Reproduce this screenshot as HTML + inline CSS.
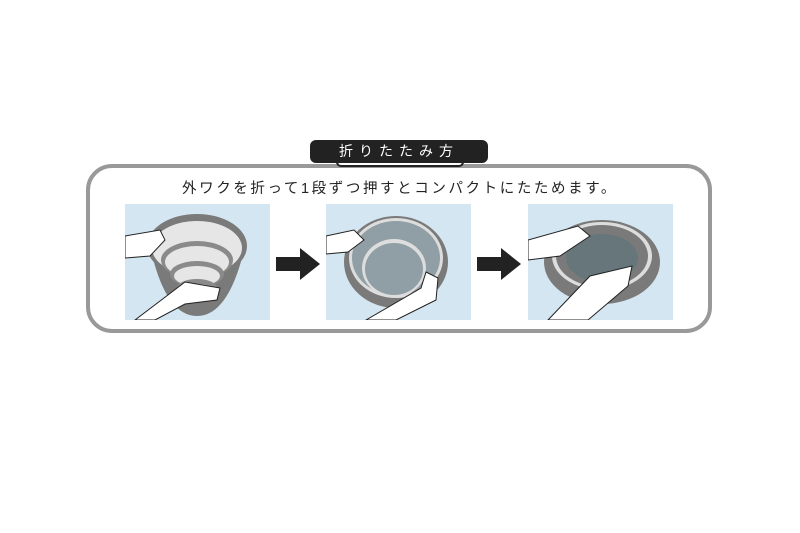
<!DOCTYPE html>
<html><head><meta charset="utf-8"><style>
body{margin:0;width:800px;height:533px;background:#fff;position:relative;overflow:hidden;font-family:"Liberation Sans","Noto Sans CJK JP",sans-serif}
.box{position:absolute;left:86px;top:164px;width:618px;height:161px;border:4px solid #999;border-radius:26px}
.tab{position:absolute;left:310px;top:140px;width:178px;height:23px;background:#222;border-radius:6px;color:#fff;font-size:14px;line-height:22px;text-align:center;letter-spacing:6px}
.bump{position:absolute;left:336px;top:156px;width:124px;height:9px;background:#fff;border:2px solid #222;border-top:none;border-radius:0 0 5px 5px}
.txt{position:absolute;left:160px;top:177px;width:480px;text-align:center;font-size:14.5px;letter-spacing:2.6px;color:#222}
.p{position:absolute;top:204px;width:145px;height:116px;background:#d4e6f1;overflow:hidden}
</style></head><body>
<div class="box"></div>
<div class="bump"></div>
<div class="tab">折りたたみ方</div>
<div class="txt">外ワクを折って1段ずつ押すとコンパクトにたためます。</div>
<div class="p" style="left:125px"><svg width="145" height="116">
<path d="M25 42 Q40 112 72 112 Q104 112 120 42 Z" fill="#7a7a7a"/>
<ellipse cx="72" cy="42" rx="50" ry="32" fill="#7a7a7a"/>
<ellipse cx="72" cy="44" rx="45" ry="27" fill="#e6e6e6"/>
<ellipse cx="72" cy="56" rx="36" ry="19" fill="#8a8a8a"/><ellipse cx="72" cy="58" rx="32" ry="16" fill="#e6e6e6"/>
<ellipse cx="72" cy="70" rx="27" ry="13" fill="#8a8a8a"/><ellipse cx="72" cy="72" rx="23" ry="10" fill="#e6e6e6"/>
<ellipse cx="72" cy="84" rx="20" ry="9" fill="#8a8a8a"/><ellipse cx="72" cy="86" rx="16" ry="6" fill="#e6e6e6"/>
<path d="M0 32 L35 26 L40 36 L25 52 L0 54Z" fill="#fff" stroke="#222" stroke-width="1"/>
<path d="M10 116 L60 78 L95 84 L92 96 L60 100 L30 116Z" fill="#fff" stroke="#222" stroke-width="1"/>
</svg></div>
<div class="p" style="left:326px"><svg width="145" height="116">
<ellipse cx="70" cy="58" rx="52" ry="46" fill="#7a7a7a"/>
<ellipse cx="70" cy="54" rx="47" ry="40" fill="#ddd"/>
<ellipse cx="70" cy="54" rx="44" ry="37" fill="#909ea5"/>
<ellipse cx="68" cy="64" rx="32" ry="29" fill="#ddd"/>
<ellipse cx="68" cy="65" rx="29" ry="26" fill="#909ea5"/>
<path d="M0 32 L28 26 L38 36 L22 48 L0 50Z" fill="#fff" stroke="#222" stroke-width="1"/>
<path d="M40 116 L95 84 L100 68 L112 74 L110 96 L70 116Z" fill="#fff" stroke="#222" stroke-width="1"/>
</svg></div>
<div class="p" style="left:528px"><svg width="145" height="116">
<ellipse cx="74" cy="58" rx="58" ry="42" fill="#7a7a7a"/>
<ellipse cx="74" cy="52" rx="50" ry="34" fill="#ddd"/>
<ellipse cx="74" cy="52" rx="46" ry="31" fill="#7a7a7a"/>
<ellipse cx="74" cy="54" rx="36" ry="24" fill="#66767a"/>
<path d="M0 36 L50 22 L62 32 L32 52 L0 56Z" fill="#fff" stroke="#222" stroke-width="1"/>
<path d="M20 116 L62 72 L104 62 L100 82 L60 116Z" fill="#fff" stroke="#222" stroke-width="1"/>
</svg></div>
<svg style="position:absolute;left:276px;top:248px" width="46" height="32"><path d="M0 9 H24 V0 L44 16 L24 32 V23 H0Z" fill="#222"/></svg>
<svg style="position:absolute;left:477px;top:248px" width="46" height="32"><path d="M0 9 H24 V0 L44 16 L24 32 V23 H0Z" fill="#222"/></svg>
</body></html>
